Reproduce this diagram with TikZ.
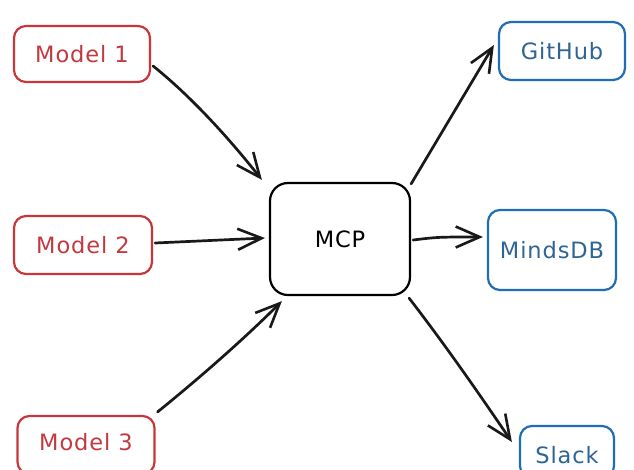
\documentclass[tikz,border=0pt]{standalone}
\usepackage{fontspec}
\setmainfont[LetterSpace=4]{DejaVu Sans}
\usetikzlibrary{arrows.meta}
\definecolor{redline}{HTML}{C8363C}
\definecolor{redtext}{HTML}{C23A40}
\definecolor{blueline}{HTML}{1F6DB3}
\definecolor{bluetext}{HTML}{2E6595}
\begin{document}
\begin{tikzpicture}[x=1pt,y=1pt,
  lbl/.style={font=\fontsize{22.5}{26}\selectfont},
  box/.style={draw, line width=2.2pt, rounded corners=12pt, fill=white,
    inner sep=0pt, lbl},
  modelbox/.style={box, draw=redline, text=redtext},
  toolbox/.style={box, draw=blueline, text=bluetext},
  conn/.style={line width=2.7pt, line cap=round, black!90,
    -{Straight Barb[length=24pt,width=21pt,line width=2.6pt]}}]
\useasboundingbox (0,0) rectangle (634,469);
\clip (0,0) rectangle (634,469);
\fill[white] (0,0) rectangle (634,469);
\node[modelbox, minimum width=136pt, minimum height=56pt] (m1) at (82,415) {Model 1};
\node[modelbox, minimum width=138pt, minimum height=58pt] (m2) at (83,224) {Model 2};
\node[modelbox, minimum width=137pt, minimum height=58pt] (m3) at (86,24) {};
\node[lbl, text=redtext] (m3t) at (86,27) {Model 3};
\node[box, draw=black, rounded corners=18pt, minimum width=140pt, minimum height=112pt] (mcp) at (340,230) {MCP};
\node[toolbox, minimum width=126pt, minimum height=58pt] (gh) at (562,418) {GitHub};
\node[toolbox, minimum width=128pt, minimum height=80pt] (mdb) at (552,219) {MindsDB};
\node[toolbox, minimum width=94pt, minimum height=52pt] (sl) at (567,17) {};
\node[lbl, text=bluetext] (slt) at (567,14) {Slack};
\draw[conn] ([shift={(2,-12)}]m1.east) .. controls +(40,-32) and +(-30,38) .. ([shift={(-7,2)}]mcp.north west);
\draw[conn] ([shift={(2,2)}]m2.east) -- ([shift={(-4,1)}]mcp.west);
\draw[conn] ([shift={(2,3)}]m3.north east) .. controls +(42,34) and +(-38,-38) .. ([shift={(13,-5)}]mcp.south west);
\draw[conn] ([shift={(0,-2)}]mcp.north east) -- ([shift={(-4,6)}]gh.west);
\draw[conn] ([shift={(2,-1)}]mcp.east) .. controls +(25,3) .. ([shift={(-4,13)}]mdb.west);
\draw[conn] ([shift={(-2,-2)}]mcp.south east) .. controls +(40,-52) and +(-30,44) .. ([shift={(-7,10)}]sl.west);
\end{tikzpicture}
\end{document}
